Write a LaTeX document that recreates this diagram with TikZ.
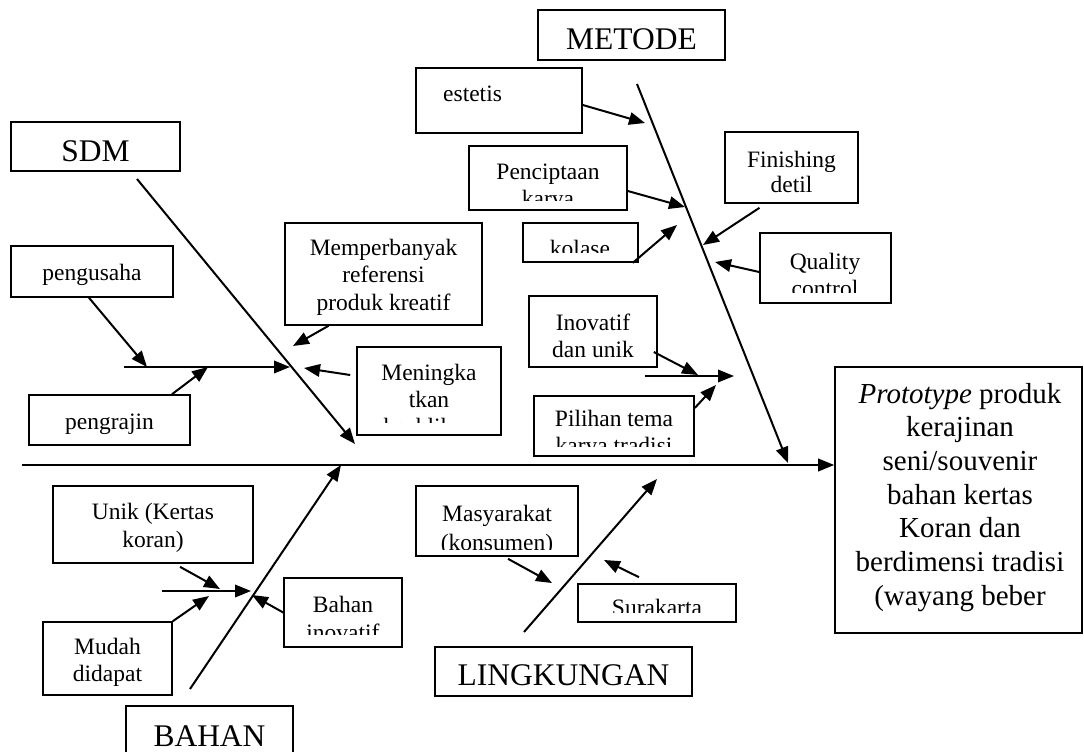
\documentclass[tikz,border=0pt]{standalone}
\usepackage{fontspec}
\setmainfont{Liberation Serif}
\usetikzlibrary{arrows.meta,fit}
\newcommand\tlines[6]{\foreach \mytxt [count=\k] in {#6} {\node[#5, anchor=base] (#1-\k) at (#2, {#3+(\k-1)*#4}) {\mytxt};}}
\begin{document}
\begin{tikzpicture}[x=1pt,y=-1pt,
  bx/.style={draw, line width=1.6pt, inner sep=0pt},
  tb/.style={font=\fontsize{23.5}{28}\selectfont, inner sep=0pt},
  tlab/.style={font=\fontsize{31.5}{36}\selectfont, inner sep=0pt},
  tres/.style={font=\fontsize{29}{34}\selectfont, inner sep=0pt},
  ar/.style={line width=2pt, -{Triangle[length=16pt,width=12.5pt]}}]
\useasboundingbox (0,0) rectangle (1084,752);

% category boxes
\node[bx, fit={(538,10)(725,60)}] (metode) {};
\tlines{metodet}{631.5}{50}{0}{tlab}{METODE}
\node[bx, fit={(11,122)(180,171)}] (sdm) {};
\tlines{sdmt}{95.5}{161}{0}{tlab}{SDM}
\node[bx, fit={(435,647)(692,696)}] (ling) {};
\tlines{lingt}{563.5}{685}{0}{tlab}{LINGKUNGAN}
\node[bx, fit={(126,706)(293,780)}] (bahan) {};
\tlines{bahant}{209.5}{746}{0}{tlab}{BAHAN}

% result
\node[bx, fit={(835,367)(1082,633)}] (result) {};
\tlines{rest}{960}{403}{33.7}{tres}{{\textit{Prototype} produk},{kerajinan},{seni/souvenir},{bahan kertas},{Koran dan},{berdimensi tradisi},{(wayang beber}}

% METODE causes
\node[bx, fit={(416,68)(582,133)}] (est) {};
\node[tb, anchor=base west] (est-1) at (443,101) {estetis};
\node[bx, fit={(469,146)(627,210)}] (pencip) {};
\begin{scope}\clip (469,146) rectangle (627,200);
\tlines{pencipt}{548}{179}{27.5}{tb}{{Penciptaan},{karya}}
\end{scope}
\node[bx, fit={(523,223)(638,262)}] (kolase) {};
\begin{scope}\clip (523,223) rectangle (638,252);
\tlines{kolaset}{580}{256}{0}{tb}{kolase}
\end{scope}
\node[bx, fit={(725,132)(858,203)}] (finish) {};
\tlines{finisht}{791.5}{167}{25.5}{tb}{{Finishing},{detil}}
\node[bx, fit={(760,233)(891,303)}] (quality) {};
\begin{scope}\clip (760,233) rectangle (891,292);
\tlines{qualityt}{825}{269}{27}{tb}{{Quality},{control}}
\end{scope}
\node[bx, fit={(529,296)(657,367)}] (inov) {};
\tlines{inovt}{593}{330}{27}{tb}{{Inovatif},{dan unik}}
\node[bx, fit={(534,396)(694,456)}] (pilihan) {};
\begin{scope}\clip (534,396) rectangle (694,446);
\tlines{piliht}{614}{426}{27}{tb}{{Pilihan tema},{karya tradisi}}
\end{scope}

% SDM causes
\node[bx, fit={(11,246)(173,297)}] (pengusaha) {};
\tlines{pengusahat}{92}{280}{0}{tb}{pengusaha}
\node[bx, fit={(29,395)(190,445)}] (pengrajin) {};
\tlines{pengrajint}{109.5}{429}{0}{tb}{pengrajin}
\node[bx, fit={(285,223)(482,325)}] (memper) {};
\tlines{mempert}{383.5}{255}{27.5}{tb}{{Memperbanyak},{referensi},{produk kreatif}}
\node[bx, fit={(357,347)(501,435)}] (mening) {};
\begin{scope}\clip (357,347) rectangle (501,422);
\tlines{meningt}{429}{380}{27}{tb}{{Meningka},{tkan},{keahlihan}}
\end{scope}

% LINGKUNGAN causes
\node[bx, fit={(416,486)(578,556)}] (masy) {};
\begin{scope}\clip (416,486) rectangle (578,549);
\tlines{masyt}{497}{521}{29}{tb}{{Masyarakat},{(konsumen)}}
\end{scope}
\node[bx, fit={(578,584)(736,622)}] (sura) {};
\begin{scope}\clip (578,584) rectangle (736,612);
\tlines{surat}{657}{615}{0}{tb}{Surakarta}
\end{scope}

% BAHAN causes
\node[bx, fit={(53,486)(253,563)}] (unik) {};
\tlines{unikt}{153}{519}{28}{tb}{{Unik (Kertas},{koran)}}
\node[bx, fit={(43,622)(172,695)}] (mudah) {};
\begin{scope}\clip (43,622) rectangle (172,685);
\tlines{mudaht}{107.5}{654}{27}{tb}{{Mudah},{didapat}}
\end{scope}
\node[bx, fit={(284,578)(402,647)}] (bahaninov) {};
\begin{scope}\clip (284,578) rectangle (402,634);
\tlines{bahaninovt}{343}{612}{28}{tb}{{Bahan},{inovatif}}
\end{scope}

% spine coordinates
\coordinate (main0) at (22,465);
\coordinate (ms0) at (637,84);   \coordinate (ms1) at (788,463);
\coordinate (ss0) at (137,179);  \coordinate (ss1) at (355,444);
\coordinate (ls0) at (524,632);  \coordinate (ls1) at (657,479);
\coordinate (bs0) at (190,689);  \coordinate (bs1) at (341,465);
% sub-bone coordinates
\coordinate (sdmA) at (124,367); \coordinate (sdmB) at (290,367);
\coordinate (inA) at (645,376);  \coordinate (inB) at (734,376);
\coordinate (bhA) at (162,591);  \coordinate (bhB) at (251,591);
% arrow tips
\coordinate (tEst) at (645,123);
\coordinate (tPen) at (685,207);
\coordinate (tKol) at (677,225);
\coordinate (tFin) at (703,245);
\coordinate (tQua) at (715,262);
\coordinate (tPgu) at (147,367);
\coordinate (tPgr) at (208,367);
\coordinate (tMem) at (293,346);
\coordinate (tMen) at (304,368);
\coordinate (tIno) at (698,375);
\coordinate (tPil) at (716,385);
\coordinate (tMas) at (552,583);
\coordinate (tSur) at (604,560);
\coordinate (tUni) at (220,589);
\coordinate (tMud) at (209,596);
\coordinate (tBin) at (252,595);

% main line and spines
\draw[ar] (main0) -- (main0 -| result.west);
\draw[ar] (ms0) -- (ms1);
\draw[ar] (ss0) -- (ss1);
\draw[ar] (ls0) -- (ls1);
\draw[ar] (bs0) -- (bs1);
\draw[ar] (sdmA) -- (sdmB);
\draw[ar] (inA) -- (inB);
\draw[ar] (bhA) -- (bhB);

% cause arrows
\draw[ar] ([yshift=-4.5pt]est.east) -- (tEst);
\draw[ar] ([yshift=-13pt]pencip.east) -- (tPen);
\draw[ar] ([xshift=-6pt]kolase.south east) -- (tKol);
\draw[ar] ([xshift=-32pt,yshift=-4pt]finish.south) -- (tFin);
\draw[ar] ([yshift=-4pt]quality.west) -- (tQua);
\draw[ar] ([xshift=-3pt]pengusaha.south) -- (tPgu);
\draw[ar] ([xshift=62.5pt]pengrajin.north) -- (tPgr);
\draw[ar] ([xshift=-55pt]memper.south) -- (tMem);
\draw[ar] ([xshift=-6pt,yshift=16pt]mening.west) -- (tMen);
\draw[ar] ([xshift=-4pt,yshift=-20.5pt]inov.east) -- (tIno);
\draw[ar] ([yshift=18pt]pilihan.east) -- (tPil);
\draw[ar] ([xshift=11pt,yshift=-2pt]masy.south) -- (tMas);
\draw[ar] ([xshift=-18pt,yshift=6pt]sura.north) -- (tSur);
\draw[ar] ([xshift=27pt,yshift=-3pt]unik.south) -- (tUni);
\draw[ar] (mudah.north east) -- (tMud);
\draw[ar] (bahaninov.west) -- (tBin);
\end{tikzpicture}
\end{document}
